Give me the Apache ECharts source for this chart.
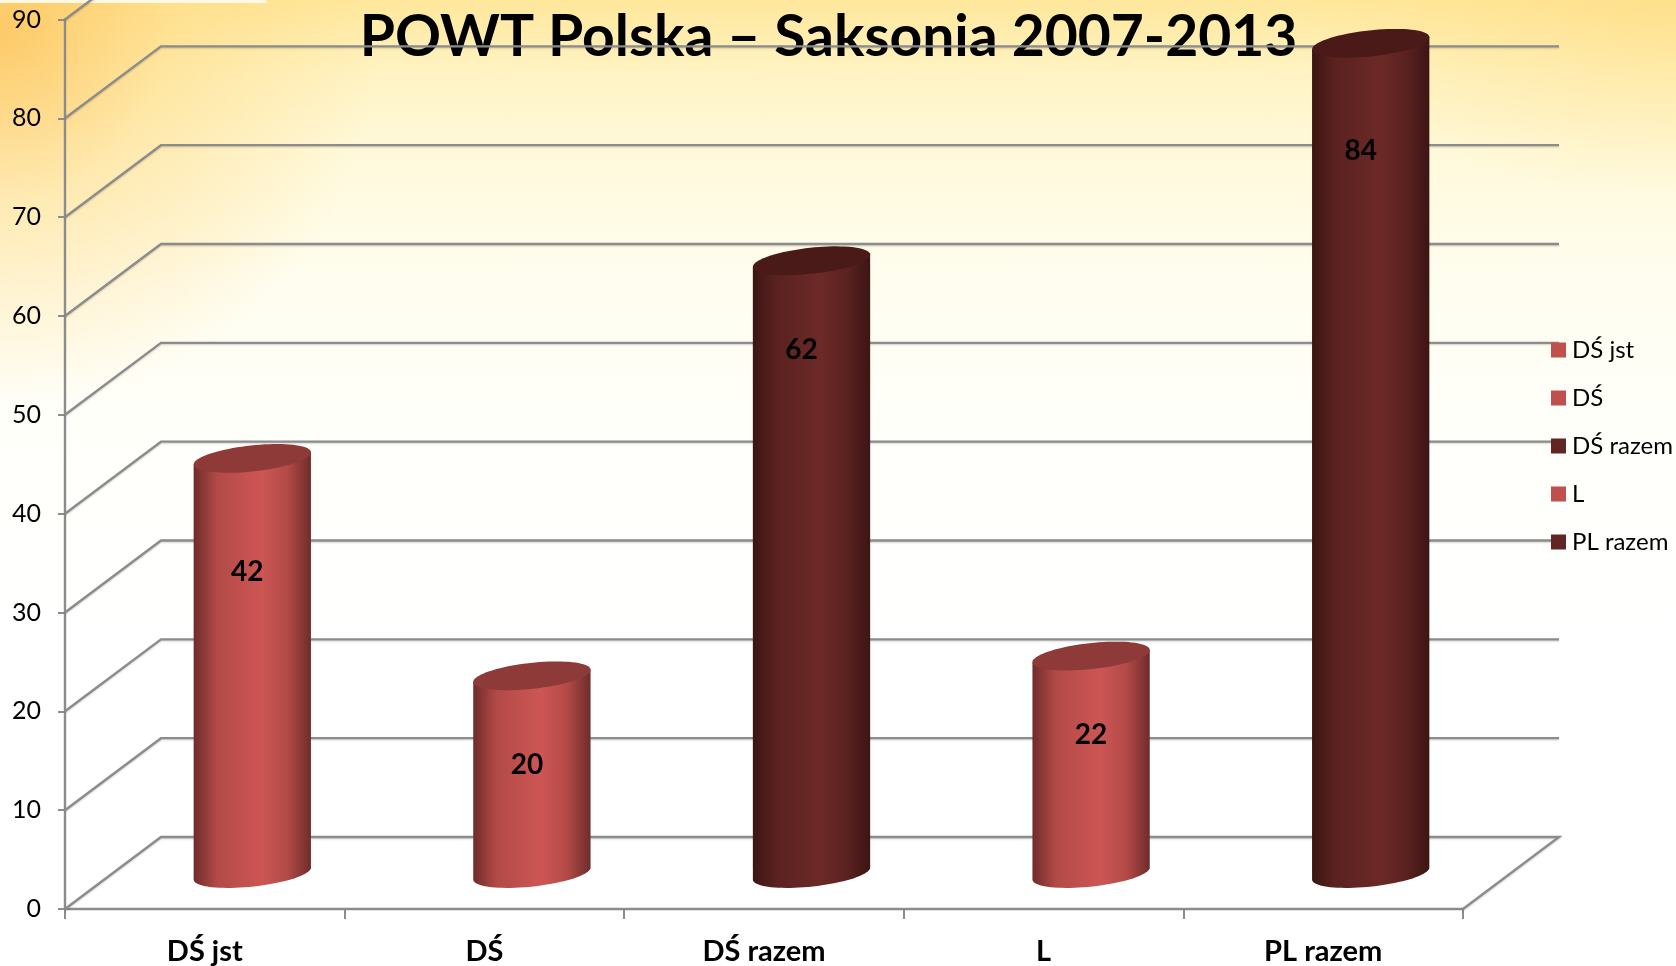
<!DOCTYPE html>
<html>
<head>
<meta charset="utf-8">
<script src="https://cdn.jsdelivr.net/npm/echarts@6/dist/echarts.min.js"></script>
<style>
html,body{margin:0;padding:0;background:#fff;}
#c{width:1676px;height:966px;
background:
 linear-gradient(90deg,rgba(255,250,235,.95),rgba(255,250,235,.95) 265px,rgba(255,250,235,0) 268px) 0 0/100% 3px no-repeat,
 radial-gradient(ellipse 380px 380px at 0 30px,rgba(253,196,92,.85),rgba(254,214,120,.45) 45%,rgba(255,236,170,0) 100%),
 radial-gradient(ellipse 380px 200px at 100% 0,rgba(254,220,130,.6),rgba(255,230,150,0) 100%),
 linear-gradient(180deg,#FFE79B 0,#FFF3C2 70px,#FFF9DA 150px,#FFFDEF 280px,#FFFFFA 420px,#FFFFFF 640px);
}
</style>
</head>
<body>
<div id="c"></div>
<script>
const titleText = 'POWT Polska – Saksonia 2007-2013';
const categories = ['DŚ jst', 'DŚ', 'DŚ razem', 'L', 'PL razem'];
const values = [42, 20, 62, 22, 84];
const yTicks = [0, 10, 20, 30, 40, 50, 60, 70, 80, 90];

// styling / layout, kept apart from the data
const LIGHT = {edge:'#6F2C2A', mid:'#B24A47', hi:'#CD5654', top:'#8E3A38', legend:'#C0504D'};
const DARK  = {edge:'#3C1513', mid:'#5A2220', hi:'#6C2927', top:'#4A1A18', legend:'#632523'};
const palette = [LIGHT, LIGHT, DARK, LIGHT, DARK];
const DEPTH_X = 96, DEPTH_Y = 72, COL_DX = 47.5, COL_DY = 35.5, RX = 59, RY = 13, TILT = -6.2 * Math.PI / 180;
const LABEL_DROP = [78, 54, 54, 43, 72];
const LABEL_SHIFT = [-5, -5, -10, 0, -10];
const FONT = 'Lato, "Open Sans", sans-serif';
const GRID_COLOR = '#8C8C8C';

function ell(cx, cy, t) {
  const x = RX * Math.cos(t), y = RY * Math.sin(t);
  return [cx + x * Math.cos(TILT) - y * Math.sin(TILT), cy + x * Math.sin(TILT) + y * Math.cos(TILT)];
}
function renderWall(params, api) {
  const v = api.value(0);
  const cs = params.coordSys;
  const y = api.coord([0, v])[1];
  const x0 = cs.x, x1 = cs.x + cs.width;
  const pts = v === 0
    ? [[x0, y], [x0 + DEPTH_X, y - DEPTH_Y], [x1 + DEPTH_X, y - DEPTH_Y], [x1, y]]
    : [[x0, y], [x0 + DEPTH_X, y - DEPTH_Y], [x1 + DEPTH_X, y - DEPTH_Y]];
  return {type: 'polyline', shape: {points: pts},
    style: {fill: null, stroke: GRID_COLOR, lineWidth: 2.4, shadowBlur: 2, shadowColor: 'rgba(0,0,0,.18)', shadowOffsetY: 1}};
}
function renderColumn(i) {
  return function (params, api) {
    const c = palette[i];
    const top = api.coord([i, api.value(1)]);
    const base = api.coord([i, 0]);
    const cx = top[0] + COL_DX, ty = top[1] - COL_DY, by = base[1] - COL_DY;
    const side = [];
    side.push(ell(cx, ty, Math.PI), ell(cx, ty, 0));
    for (let k = 0; k <= 40; k++) side.push(ell(cx, by, k / 40 * Math.PI));
    const cap = [];
    for (let k = 0; k < 80; k++) cap.push(ell(cx, ty, k / 80 * 2 * Math.PI));
    return {type: 'group', children: [
      {type: 'polygon', shape: {points: side}, style: {fill: new echarts.graphic.LinearGradient(0, 0, 1, 0, [
        {offset: 0, color: c.edge}, {offset: .2, color: c.mid}, {offset: .58, color: c.hi},
        {offset: .8, color: c.mid}, {offset: 1, color: c.edge}])}},
      {type: 'polygon', shape: {points: cap}, style: {fill: c.top}},
      {type: 'text', style: {text: String(api.value(1)), x: cx + LABEL_SHIFT[i], y: top[1] + LABEL_DROP[i],
        align: 'center', verticalAlign: 'middle', fill: '#000', font: 'bold 28px ' + FONT}}
    ]};
  };
}
const chart = echarts.init(document.getElementById('c'), null, {renderer: 'canvas'});
chart.setOption({
  backgroundColor: 'transparent',
  animation: false,
  title: {text: titleText, left: 823.5, top: 4, textAlign: 'center', z: 0,
    textStyle: {fontFamily: FONT, fontWeight: 'bold', fontSize: 57, color: '#000'}},
  legend: {orient: 'vertical', left: 1551, top: 338, padding: 0, itemWidth: 15, itemHeight: 15, itemGap: 24,
    selectedMode: false, icon: 'rect', data: categories,
    textStyle: {fontFamily: FONT, fontSize: 24, color: '#000', padding: [0, 0, 0, 1]}},
  grid: {left: 65, right: 213, top: 19.5, bottom: 57},
  xAxis: {type: 'category', data: categories, boundaryGap: true,
    axisLine: {lineStyle: {color: GRID_COLOR, width: 2.4}},
    axisTick: {show: true, alignWithLabel: false, length: 10, lineStyle: {color: GRID_COLOR, width: 2}},
    axisLabel: {color: '#000', fontFamily: FONT, fontWeight: 'bold', fontSize: 29, margin: 28, interval: 0}},
  yAxis: {type: 'value', min: 0, max: 90, interval: 10,
    axisLine: {show: true, lineStyle: {color: GRID_COLOR, width: 2.4}},
    axisTick: {show: true, length: 7, lineStyle: {color: GRID_COLOR, width: 2}},
    splitLine: {show: false},
    axisLabel: {color: '#000', fontFamily: FONT, fontSize: 25, margin: 24, padding: [6, 0, 0, 0]}},
  series: [
    {type: 'custom', name: 'wall', coordinateSystem: 'cartesian2d', clip: false, z: 1, silent: true,
      encode: {x: 1, y: 0}, data: yTicks.map(t => [t, 0]), renderItem: renderWall},
    ...categories.map((name, i) => ({
      type: 'custom', name, coordinateSystem: 'cartesian2d', clip: false, z: 3 + i,
      itemStyle: {color: palette[i].legend},
      encode: {x: 0, y: 1}, data: [[i, values[i]]], renderItem: renderColumn(i)
    }))
  ]
});
</script>
</body>
</html>
